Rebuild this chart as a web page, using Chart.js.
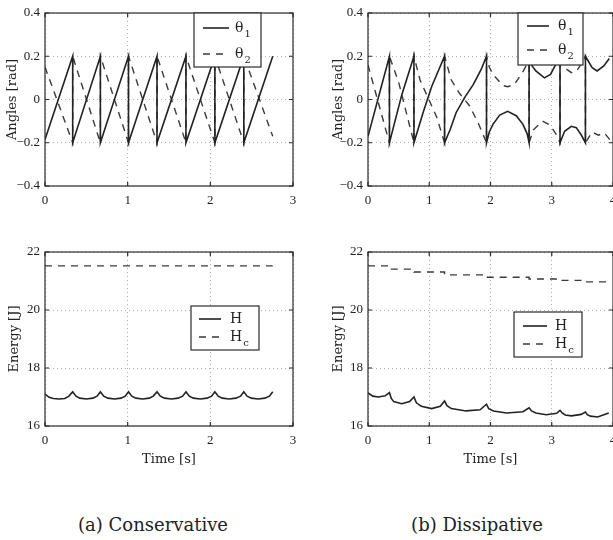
<!DOCTYPE html>
<html>
<head>
<meta charset="utf-8">
<script src="https://cdn.jsdelivr.net/npm/chart.js@4"></script>
<style>
  body { margin: 0; background: #fff; }
  #fig { position: relative; width: 613px; height: 540px; overflow: hidden; background: #fff; }
  #fig canvas { position: absolute; }
  .caption { position: absolute; top: 513px; width: 220px; text-align: center;
             font: 18px "DejaVu Serif", serif; color: #222; line-height: 24px; }
</style>
</head>
<body>
<div id="fig">
  <canvas id="angCons" width="304" height="215" style="left:0;top:0"></canvas>
  <canvas id="angDiss" width="301" height="215" style="left:323px;top:0"></canvas>
  <canvas id="enCons" width="304" height="236" style="left:0;top:239px"></canvas>
  <canvas id="enDiss" width="301" height="236" style="left:323px;top:239px"></canvas>
  <div class="caption" style="left:43px">(a) Conservative</div>
  <div class="caption" style="left:367px">(b) Dissipative</div>
</div>
<script>
// 1. Data
const consTimeTheta = [0, 0.335, 0.335, 0.67, 0.67, 1.01, 1.01, 1.355, 1.355, 1.705, 1.705, 2.055, 2.055, 2.405, 2.405, 2.755];
const consTheta1 = [-0.185, 0.2, -0.2, 0.2, -0.2, 0.2, -0.2, 0.2, -0.2, 0.2, -0.2, 0.2, -0.2, 0.2, -0.2, 0.2];
const consTheta2 = [0.15, -0.2, 0.2, -0.2, 0.2, -0.2, 0.2, -0.2, 0.2, -0.2, 0.2, -0.2, 0.2, -0.2, 0.2, -0.17];

const consTimeH = [0, 0.05, 0.1, 0.17, 0.24, 0.29, 0.335,
  0.375, 0.42, 0.5, 0.58, 0.63, 0.67,
  0.71, 0.76, 0.84, 0.92, 0.97, 1.01,
  1.05, 1.1, 1.18, 1.26, 1.31, 1.355,
  1.395, 1.445, 1.53, 1.61, 1.665, 1.705,
  1.745, 1.795, 1.88, 1.96, 2.015, 2.055,
  2.095, 2.145, 2.23, 2.31, 2.365, 2.405,
  2.445, 2.495, 2.58, 2.66, 2.715, 2.755];
const consH = [17.1, 16.99, 16.95, 16.93, 16.95, 17.03, 17.18,
  17.03, 16.96, 16.93, 16.96, 17.03, 17.18,
  17.03, 16.96, 16.93, 16.96, 17.03, 17.18,
  17.03, 16.96, 16.93, 16.96, 17.03, 17.18,
  17.03, 16.96, 16.93, 16.96, 17.03, 17.18,
  17.03, 16.96, 16.93, 16.96, 17.03, 17.18,
  17.03, 16.96, 16.93, 16.96, 17.03, 17.18,
  17.03, 16.96, 16.93, 16.96, 17.03, 17.18];
const consTimeHc = [0, 2.755];
const consHc = [21.52, 21.52];

const dissTimeTheta1 = [0, 0.35, 0.35, 0.55, 0.75, 0.75, 0.9, 1.04, 1.25, 1.25, 1.34, 1.44, 1.58, 1.72, 1.85, 1.935,
  1.935, 1.98, 2.04, 2.15, 2.28, 2.42, 2.53, 2.6, 2.63,
  2.63, 2.68, 2.74, 2.88, 2.98, 3.08, 3.135,
  3.135, 3.21, 3.32, 3.4, 3.48, 3.55,
  3.55, 3.66, 3.74, 3.85, 3.94];
const dissTheta1 = [-0.17, 0.2, -0.2, 0.02, 0.2, -0.2, -0.06, 0.06, 0.2, -0.2, -0.14, -0.06, 0.01, 0.07, 0.14, 0.2,
  -0.2, -0.15, -0.115, -0.072, -0.055, -0.075, -0.115, -0.16, -0.2,
  0.2, 0.155, 0.132, 0.1, 0.116, 0.17, 0.2,
  -0.2, -0.147, -0.124, -0.13, -0.163, -0.2,
  0.2, 0.147, 0.132, 0.155, 0.19];
const dissTimeTheta2 = [0, 0.3, 0.35, 0.35, 0.5, 0.71, 0.75, 0.75, 0.85, 1.12, 1.25, 1.25, 1.36, 1.49, 1.66, 1.8, 1.935,
  1.935, 1.98, 2.04, 2.2, 2.28, 2.39, 2.52, 2.6, 2.63,
  2.63, 2.7, 2.85, 2.98, 3.08, 3.135,
  3.135, 3.21, 3.32, 3.4, 3.48, 3.55,
  3.55, 3.66, 3.76, 3.86, 3.96];
const dissTheta2 = [0.16, -0.15, -0.2, 0.2, 0.08, -0.155, -0.2, 0.2, 0.09, -0.08, -0.2, 0.2, 0.09, 0.03, -0.03, -0.11, -0.2,
  0.2, 0.15, 0.116, 0.065, 0.059, 0.07, 0.124, 0.165, 0.2,
  -0.2, -0.14, -0.1, -0.12, -0.165, -0.2,
  0.2, 0.147, 0.124, 0.13, 0.163, 0.2,
  -0.2, -0.15, -0.165, -0.155, -0.19];

const dissTimeH = [0, 0.08, 0.17, 0.28, 0.35, 0.38, 0.42, 0.55, 0.68, 0.75, 0.79, 0.87, 1.04, 1.18, 1.25,
  1.29, 1.36, 1.6, 1.83, 1.935, 1.97, 2.05, 2.26, 2.53, 2.63, 2.67, 2.74, 2.91, 3.08, 3.135,
  3.17, 3.22, 3.32, 3.48, 3.55, 3.58, 3.63, 3.75, 3.93];
const dissH = [17.14, 17.03, 17.0, 17.04, 17.15, 16.95, 16.84, 16.77, 16.84, 17.0, 16.8, 16.68, 16.6, 16.68, 16.86,
  16.7, 16.6, 16.52, 16.56, 16.75, 16.6, 16.52, 16.45, 16.49, 16.63, 16.52, 16.45, 16.39, 16.44, 16.54,
  16.45, 16.38, 16.35, 16.4, 16.48, 16.39, 16.34, 16.31, 16.45];
const dissTimeHc = [0, 0.35, 0.35, 0.75, 0.75, 1.25, 1.25, 1.935, 1.935, 2.63, 2.63, 3.135, 3.135, 3.55, 3.55, 3.95];
const dissHc = [21.52, 21.52, 21.41, 21.41, 21.31, 21.31, 21.21, 21.21, 21.13, 21.13, 21.07, 21.07, 21.02, 21.02, 20.97, 20.97];

// tick values and labels
const timeTicksCons = [0, 1, 2, 3];
const timeTicksDiss = [0, 1, 2, 3, 4];
const angleTicks = [-0.4, -0.2, 0, 0.2, 0.4];
const angleLabels = ["\u22120.4", "\u22120.2", "0", "0.2", "0.4"];
const energyTicks = [16, 18, 20, 22];
const energyLabels = ["16", "18", "20", "22"];

document.addEventListener("DOMContentLoaded", () => {
  const pts = (t, v) => t.map((x, i) => ({ x, y: v[i] }));
  const tickFont = { family: '"Liberation Serif", serif', size: 13 };
  const titleFont = { family: '"DejaVu Serif", serif', size: 13 };

  const solid = (label, data) => ({ label, data, borderColor: "#222", borderWidth: 1.6 });
  const dashed = (label, data) => ({ label, data, borderColor: "#3a3a3a", borderWidth: 1.4, borderDash: [7, 6] });

  // box around the axes plus inward ticks, matlab style
  const framePlugin = {
    id: "frame",
    afterDatasetsDraw(chart) {
      const { ctx, chartArea: a, scales } = chart;
      ctx.save();
      ctx.strokeStyle = "#2b2b2b";
      ctx.lineWidth = 1.2;
      ctx.strokeRect(a.left, a.top, a.width, a.height);
      ctx.beginPath();
      scales.x.ticks.forEach((t) => {
        const px = scales.x.getPixelForValue(t.value);
        ctx.moveTo(px, a.bottom); ctx.lineTo(px, a.bottom - 4);
        ctx.moveTo(px, a.top); ctx.lineTo(px, a.top + 4);
      });
      scales.y.ticks.forEach((t) => {
        const py = scales.y.getPixelForValue(t.value);
        ctx.moveTo(a.left, py); ctx.lineTo(a.left + 4, py);
        ctx.moveTo(a.right, py); ctx.lineTo(a.right - 4, py);
      });
      ctx.stroke();
      ctx.restore();
    },
  };

  // legend in a white box inside the axes, with subscripts
  const boxLegendPlugin = {
    id: "boxLegend",
    afterDraw(chart, args, o) {
      const { ctx, chartArea: a } = chart;
      const bx = a.left + o.x, by = a.top + o.y;
      ctx.save();
      ctx.fillStyle = "#fff";
      ctx.fillRect(bx, by, o.w, o.h);
      ctx.strokeStyle = "#2b2b2b";
      ctx.lineWidth = 1.2;
      ctx.strokeRect(bx, by, o.w, o.h);
      chart.data.datasets.forEach((ds, i) => {
        const y = by + o.rows[i];
        ctx.setLineDash(ds.borderDash || []);
        ctx.strokeStyle = ds.borderColor;
        ctx.lineWidth = ds.borderWidth;
        ctx.beginPath();
        ctx.moveTo(bx + o.lineFrom, y);
        ctx.lineTo(bx + o.lineTo, y);
        ctx.stroke();
        ctx.setLineDash([]);
        const main = ds.label.charAt(0), sub = ds.label.slice(1);
        ctx.fillStyle = "#222";
        ctx.textAlign = "left";
        ctx.textBaseline = "middle";
        ctx.font = '14px "DejaVu Serif"';
        ctx.fillText(main, bx + o.textX, y);
        if (sub) {
          const w = ctx.measureText(main).width;
          ctx.font = '10px "DejaVu Serif"';
          ctx.fillText(sub, bx + o.textX + w + 1, y + 6);
        }
      });
      ctx.restore();
    },
  };

  function makeChart(id, cfg) {
    return new Chart(document.getElementById(id), {
      type: "line",
      data: { datasets: cfg.datasets },
      options: {
        responsive: false,
        animation: false,
        devicePixelRatio: 1,
        layout: { padding: { top: 13, right: 11, left: 0, bottom: 0 } },
        elements: { point: { radius: 0 }, line: { tension: 0 } },
        plugins: {
          legend: { display: false },
          tooltip: { enabled: false },
          boxLegend: cfg.legend,
        },
        scales: {
          x: {
            type: "linear",
            min: 0,
            max: cfg.xTicks[cfg.xTicks.length - 1],
            afterBuildTicks: (s) => { s.ticks = cfg.xTicks.map((v) => ({ value: v })); },
            afterFit: (s) => { s.height = cfg.xHeight; },
            ticks: { font: tickFont, color: "#222", padding: 7, maxRotation: 0, autoSkip: false,
                     callback: (v, i) => String(cfg.xTicks[i]) },
            grid: { color: "#b0b0b0", drawTicks: false },
            border: { display: false, dash: [1, 3] },
            title: { display: !!cfg.xTitle, text: cfg.xTitle || "", font: titleFont, color: "#222",
                     padding: { top: 0, bottom: 8 } },
          },
          y: {
            min: cfg.yTicks[0],
            max: cfg.yTicks[cfg.yTicks.length - 1],
            afterBuildTicks: (s) => { s.ticks = cfg.yTicks.map((v) => ({ value: v })); },
            afterFit: (s) => { s.width = 45; },
            ticks: { font: tickFont, color: "#222", padding: 5, autoSkip: false,
                     callback: (v, i) => cfg.yLabels[i] },
            grid: { color: "#b0b0b0", drawTicks: false },
            border: { display: false, dash: [1, 3] },
            title: { display: true, text: cfg.yTitle, font: titleFont, color: "#222",
                     padding: { top: cfg.yTitlePad, bottom: 0 } },
          },
        },
      },
      plugins: [framePlugin, boxLegendPlugin],
    });
  }

  // 2. Charts
  makeChart("angCons", {
    datasets: [solid("θ1", pts(consTimeTheta, consTheta1)), dashed("θ2", pts(consTimeTheta, consTheta2))],
    xTicks: timeTicksCons, yTicks: angleTicks, yLabels: angleLabels,
    xHeight: 29, yTitle: "Angles [rad]", yTitlePad: 5,
    legend: { x: 149, y: 0, w: 67, h: 54, rows: [15, 41], lineFrom: 9, lineTo: 35, textX: 41 },
  });

  makeChart("angDiss", {
    datasets: [solid("θ1", pts(dissTimeTheta1, dissTheta1)), dashed("θ2", pts(dissTimeTheta2, dissTheta2))],
    xTicks: timeTicksDiss, yTicks: angleTicks, yLabels: angleLabels,
    xHeight: 29, yTitle: "Angles [rad]", yTitlePad: 8,
    legend: { x: 150, y: 0, w: 65, h: 52, rows: [13, 37], lineFrom: 9, lineTo: 31, textX: 40 },
  });

  makeChart("enCons", {
    datasets: [solid("H", pts(consTimeH, consH)), dashed("Hc", pts(consTimeHc, consHc))],
    xTicks: timeTicksCons, yTicks: energyTicks, yLabels: energyLabels,
    xHeight: 49, xTitle: "Time [s]", yTitle: "Energy [J]", yTitlePad: 7,
    legend: { x: 146, y: 54, w: 68, h: 44, rows: [13, 31], lineFrom: 8, lineTo: 30, textX: 39 },
  });

  makeChart("enDiss", {
    datasets: [solid("H", pts(dissTimeH, dissH)), dashed("Hc", pts(dissTimeHc, dissHc))],
    xTicks: timeTicksDiss, yTicks: energyTicks, yLabels: energyLabels,
    xHeight: 49, xTitle: "Time [s]", yTitle: "Energy [J]", yTitlePad: 8,
    legend: { x: 146, y: 60, w: 68, h: 45, rows: [14, 32], lineFrom: 9, lineTo: 33, textX: 41 },
  });
});
</script>
</body>
</html>
